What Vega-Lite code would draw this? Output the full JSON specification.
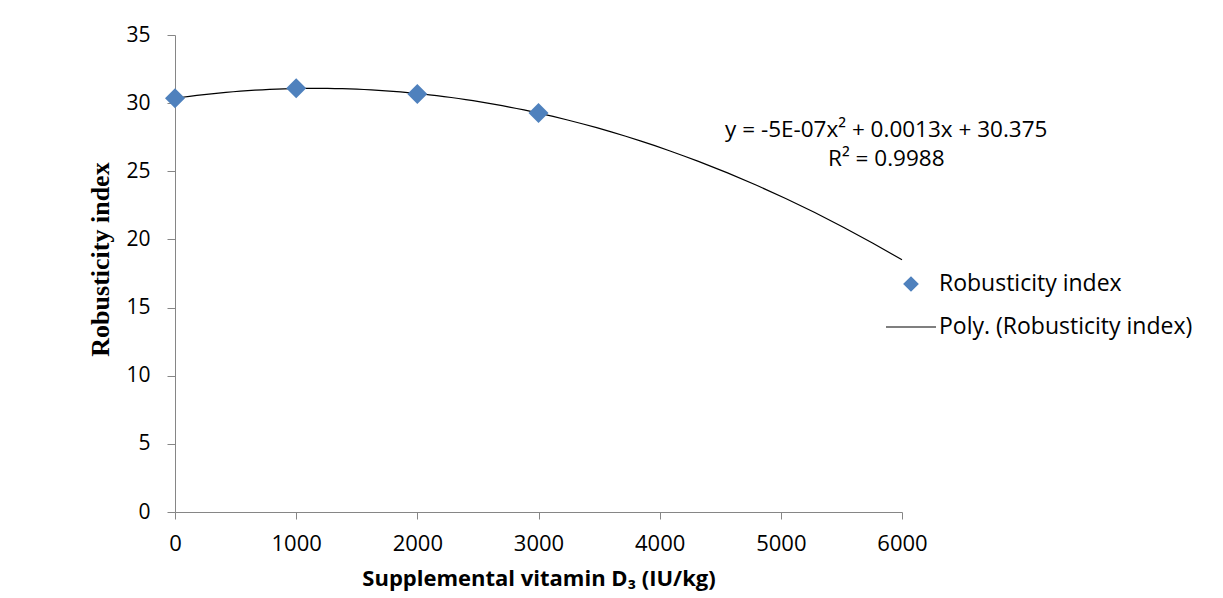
{
  "$schema": "https://vega.github.io/schema/vega-lite/v6.json",
  "width": 727,
  "height": 477,
  "autosize": {"type": "none"},
  "padding": {"left": 175, "top": 35, "right": 321, "bottom": 86},
  "background": "white",
  "config": {"view": {"stroke": null}, "font": "Open Sans"},
  "data": {
    "values": [
      {"dose": 0, "index": 30.35},
      {"dose": 1000, "index": 31.1},
      {"dose": 2000, "index": 30.68},
      {"dose": 3000, "index": 29.28}
    ]
  },
  "encoding": {
    "x": {
      "field": "dose",
      "type": "quantitative",
      "scale": {"domain": [0, 6000], "nice": false},
      "axis": {
        "values": [0, 1000, 2000, 3000, 4000, 5000, 6000],
        "format": "d",
        "grid": false,
        "labelFlush": false,
        "title": "Supplemental vitamin D₃ (IU/kg)",
        "titleFont": "Open Sans",
        "titleFontWeight": "bold",
        "titleFontSize": 22,
        "titleColor": "black",
        "titleY": 66,
        "titleBaseline": "middle",
        "labelFont": "Open Sans",
        "labelFontSize": 22,
        "labelColor": "black",
        "labelPadding": 14,
        "tickSize": 7,
        "tickColor": "#868686",
        "domainColor": "#868686"
      }
    },
    "y": {
      "field": "index",
      "type": "quantitative",
      "scale": {"domain": [0, 35], "nice": false},
      "axis": {
        "values": [0, 5, 10, 15, 20, 25, 30, 35],
        "grid": false,
        "labelFlush": false,
        "title": "Robusticity index",
        "titleFont": "Liberation Serif",
        "titleFontWeight": "bold",
        "titleFontSize": 26,
        "titleColor": "black",
        "titleX": -75,
        "titleY": 224,
        "titleAngle": -90,
        "titleAlign": "center",
        "titleBaseline": "middle",
        "labelFont": "Open Sans",
        "labelFontSize": 21,
        "labelColor": "black",
        "labelPadding": 17,
        "tickSize": 8,
        "tickColor": "#868686",
        "domainColor": "#868686"
      }
    }
  },
  "layer": [
    {
      "transform": [
        {"regression": "index", "on": "dose", "method": "poly", "order": 2, "extent": [0, 6000]}
      ],
      "mark": {"type": "line", "strokeWidth": 1.2},
      "encoding": {
        "color": {
          "datum": "Poly. (Robusticity index)",
          "scale": {
            "domain": ["Robusticity index", "Poly. (Robusticity index)"],
            "range": ["#4F81BD", "black"]
          },
          "legend": {
            "orient": "none",
            "legendX": 710,
            "legendY": 223,
            "padding": 0,
            "title": null,
            "symbolSize": 1764,
            "rowPadding": 5,
            "labelOffset": 2,
            "labelLimit": 0,
            "labelFont": "Open Sans",
            "labelFontSize": 23,
            "labelColor": "black",
            "encode": {
              "symbols": {
                "update": {
                  "shape": {"signal": "datum.value === 'Robusticity index' ? 'diamond' : 'stroke'"},
                  "size": {"signal": "datum.value === 'Robusticity index' ? 196 : 2500"},
                  "fill": {"signal": "datum.value === 'Robusticity index' ? '#4F81BD' : 'transparent'"},
                  "stroke": {"signal": "datum.value === 'Robusticity index' ? 'transparent' : 'black'"},
                  "strokeWidth": {"value": 1.2},
                  "opacity": {"value": 1}
                }
              }
            }
          }
        }
      }
    },
    {
      "mark": {"type": "point", "shape": "diamond", "filled": true, "size": 400, "opacity": 1},
      "encoding": {
        "color": {"datum": "Robusticity index"}
      }
    },
    {
      "data": {
        "values": [
          {"dose": 5870, "index": 28.0, "label": "y = -5E-07x² + 0.0013x + 30.375"},
          {"dose": 5870, "index": 25.9, "label": "R² = 0.9988"}
        ]
      },
      "mark": {"type": "text", "fontSize": 22.5, "font": "Open Sans", "align": "center", "baseline": "middle", "color": "black"},
      "encoding": {
        "text": {"field": "label"}
      }
    }
  ]
}
